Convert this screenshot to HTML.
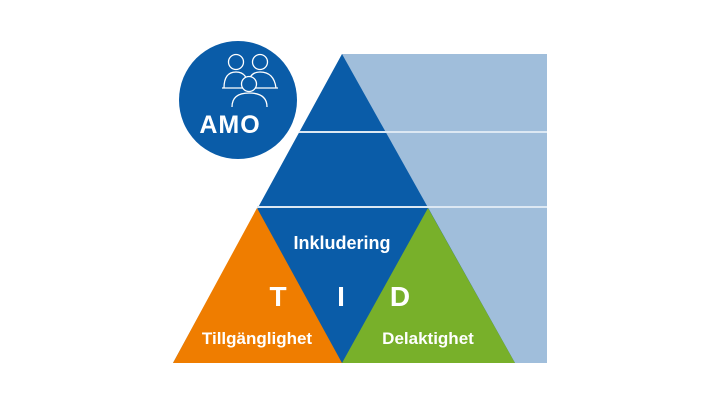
<!DOCTYPE html>
<html><head><meta charset="utf-8"><style>
html,body{margin:0;padding:0;background:#fff;}
svg{display:block;}
text{font-family:"Liberation Sans",sans-serif;font-weight:bold;fill:#fff;}
</style></head><body>
<svg width="720" height="405" viewBox="0 0 720 405">
<rect x="342" y="54" width="205" height="309" fill="#a0bedb"/>
<polygon points="342,54 173,363 515,363" fill="#0a5ca8"/>
<polygon points="257,208 173,363 342,363" fill="#ef7d00"/>
<polygon points="428,208 342,363 515,363" fill="#78b02a"/>
<line x1="299" y1="132" x2="547" y2="132" stroke="#dce8f3" stroke-width="2"/>
<line x1="257" y1="207" x2="547" y2="207" stroke="#dce8f3" stroke-width="2"/>
<circle cx="238" cy="100" r="59" fill="#0a5ca8"/>
<g fill="none" stroke="#fff" stroke-width="1.3">
<circle cx="236" cy="62" r="7.5"/>
<circle cx="260" cy="62" r="7.5"/>
<path d="M224,88 Q224,72 236,72 Q248,72 248,88"/>
<path d="M248,88 Q248,72 260,72 Q274,72 276,88"/>
<line x1="222" y1="88" x2="278" y2="88"/>
<circle cx="249" cy="84" r="7.5" fill="#0a5ca8"/>
<path d="M232,107 Q232,93 249,93 Q267,93 267,107"/>
</g>
<text x="230" y="133" font-size="25" letter-spacing="1" text-anchor="middle">AMO</text>
<text x="342" y="249" font-size="18" text-anchor="middle">Inkludering</text>
<text x="278" y="306" font-size="28" text-anchor="middle">T</text>
<text x="341" y="306" font-size="28" text-anchor="middle">I</text>
<text x="400" y="306" font-size="28" text-anchor="middle">D</text>
<text x="257" y="344" font-size="17" text-anchor="middle">Tillgänglighet</text>
<text x="428" y="344" font-size="17" text-anchor="middle">Delaktighet</text>
</svg>
</body></html>
